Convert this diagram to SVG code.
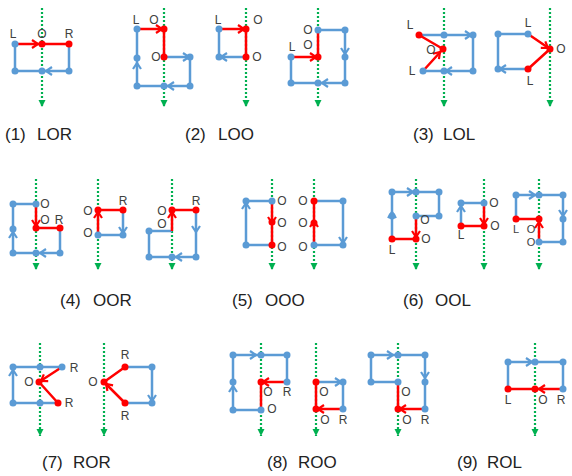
<svg xmlns="http://www.w3.org/2000/svg" xmlns:xlink="http://www.w3.org/1999/xlink" width="572" height="476" viewBox="0 0 572 476">
<style>
.g{stroke:#00B050;stroke-width:2.2;stroke-dasharray:2 2;fill:none;marker-end:url(#ga)}
.b{stroke:#5B9BD5;stroke-width:2.5;fill:none;stroke-linejoin:round}
.r{stroke:#FF0000;stroke-width:2.5;fill:none;stroke-linejoin:round}
.lb{font-family:"Liberation Sans",Arial,sans-serif;font-size:12px;fill:#404040;text-anchor:middle}
.sm{font-size:11px}
.cap{font-family:"Liberation Sans",Arial,sans-serif;font-size:17px;fill:#222}
</style>
<defs>
<marker id="ga" viewBox="0 0 8 8" refX="7" refY="4" markerWidth="8" markerHeight="8" markerUnits="userSpaceOnUse" orient="auto"><path d="M0,0.5 L7,4 L0,7.5z" fill="#00B050"/></marker>
<path id="cb" d="M-6,-4 L0,0 L-6,4" fill="none" stroke="#5B9BD5" stroke-width="2.2"/>
<path id="cr" d="M-6,-4 L0,0 L-6,4" fill="none" stroke="#FF0000" stroke-width="2.2"/>
<circle id="db" r="3.5" fill="#5B9BD5"/>
<circle id="dr" r="3.5" fill="#FF0000"/>
</defs>

<!-- (1) LOR -->
<g id="fig1">
<line class="g" x1="42" y1="8" x2="42" y2="107"/>
<path class="b" d="M69,44 V71 H15 V44"/>
<path class="r" d="M15,44 H69"/>
<use href="#cr" transform="translate(38,44)"/>
<use href="#cb" transform="translate(46,71) rotate(180)"/>
<use href="#db" x="15" y="44"/><use href="#dr" x="42" y="44"/><use href="#dr" x="69" y="44"/>
<use href="#db" x="15" y="71"/><use href="#db" x="42" y="71"/><use href="#db" x="69" y="71"/>
<text class="lb" x="13" y="38">L</text><text class="lb" x="42" y="38">O</text><text class="lb" x="69" y="38">R</text>
</g>

<!-- (2) LOO -->
<g id="fig2a">
<line class="g" x1="164" y1="8" x2="164" y2="107"/>
<path class="b" d="M164,57 H190 V86 H137 V29"/>
<path class="r" d="M137,29 H164 V57"/>
<use href="#cr" transform="translate(162,29)"/>
<use href="#cb" transform="translate(189,57)"/>
<use href="#cb" transform="translate(168,86) rotate(180)"/>
<use href="#cb" transform="translate(137,63) rotate(-90)"/>
<use href="#db" x="137" y="29"/><use href="#dr" x="164" y="29"/><use href="#dr" x="164" y="57"/>
<use href="#db" x="190" y="57"/><use href="#db" x="190" y="86"/><use href="#db" x="164" y="86"/>
<use href="#db" x="137" y="86"/><use href="#db" x="137" y="58"/>
<text class="lb" x="136" y="24">L</text><text class="lb" x="154" y="24">O</text><text class="lb" x="156" y="61">O</text>
</g>
<g id="fig2b">
<line class="g" x1="246" y1="8" x2="246" y2="107"/>
<path class="b" d="M246,57 H219 V29"/>
<path class="r" d="M219,29 H246 V57"/>
<use href="#cr" transform="translate(244,29)"/>
<use href="#cb" transform="translate(221,57) rotate(180)"/>
<use href="#db" x="219" y="29"/><use href="#dr" x="246" y="29"/><use href="#dr" x="246" y="57"/><use href="#db" x="219" y="57"/>
<text class="lb" x="218" y="24">L</text><text class="lb" x="258" y="24">O</text><text class="lb" x="257" y="61">O</text>
</g>
<g id="fig2c">
<line class="g" x1="318" y1="8" x2="318" y2="107"/>
<path class="b" d="M318,30 H345 V83 H291 V57"/>
<path class="r" d="M291,57 H318 V30"/>
<use href="#cb" transform="translate(345,54) rotate(90)"/>
<use href="#cb" transform="translate(322,83) rotate(180)"/>
<use href="#cr" transform="translate(316,57)"/>
<use href="#db" x="318" y="30"/><use href="#db" x="345" y="30"/><use href="#db" x="345" y="57"/>
<use href="#db" x="345" y="83"/><use href="#db" x="318" y="83"/><use href="#db" x="291" y="83"/>
<use href="#db" x="291" y="57"/><use href="#dr" x="318" y="57"/>
<text class="lb" x="308" y="34">O</text><text class="lb" x="292" y="51">L</text><text class="lb" x="308" y="49">O</text>
</g>

<!-- (3) LOL -->
<g id="fig3a">
<line class="g" x1="444" y1="8" x2="444" y2="107"/>
<path class="b" d="M419,35 H473 V71 H423"/>
<path class="r" d="M419,35 L443,49 L423,71"/>
<use href="#cb" transform="translate(471,35)"/>
<use href="#cb" transform="translate(446,71) rotate(180)"/>
<use href="#cr" transform="translate(440,52) rotate(-47.7)"/>
<use href="#dr" x="419" y="35"/><use href="#db" x="444" y="35"/><use href="#db" x="473" y="35"/>
<use href="#db" x="473" y="71"/><use href="#db" x="444" y="71"/><use href="#db" x="423" y="71"/>
<use href="#dr" x="443" y="49"/>
<text class="lb" x="410" y="29">L</text><text class="lb" x="431" y="54">O</text><text class="lb" x="412" y="75">L</text>
</g>
<g id="fig3b">
<line class="g" x1="550" y1="8" x2="550" y2="107"/>
<path class="b" d="M528,34 H498 V69 H528"/>
<path class="r" d="M528,34 L550,49 L528,69"/>
<use href="#cr" transform="translate(548,48) rotate(34.3)"/>
<use href="#cb" transform="translate(500,69) rotate(180)"/>
<use href="#db" x="498" y="34"/><use href="#db" x="528" y="34"/><use href="#dr" x="550" y="49"/>
<use href="#dr" x="528" y="69"/><use href="#db" x="498" y="69"/>
<text class="lb" x="528" y="27">L</text><text class="lb" x="561" y="53">O</text><text class="lb" x="530" y="85">L</text>
</g>

<!-- (4) OOR -->
<g id="fig4a">
<line class="g" x1="36" y1="179" x2="36" y2="270"/>
<path class="b" d="M60,228 V253 H13 V204 H36"/>
<path class="r" d="M36,204 V228 H60"/>
<use href="#cr" transform="translate(36,226) rotate(90)"/>
<use href="#cb" transform="translate(40,253) rotate(180)"/>
<use href="#cb" transform="translate(13,232) rotate(-90)"/>
<use href="#db" x="13" y="204"/><use href="#db" x="36" y="204"/><use href="#dr" x="36" y="228"/>
<use href="#dr" x="60" y="228"/><use href="#db" x="60" y="253"/><use href="#db" x="36" y="253"/>
<use href="#db" x="13" y="253"/><use href="#db" x="13" y="229"/>
<text class="lb" x="45" y="208">O</text><text class="lb" x="45" y="224">O</text><text class="lb" x="59" y="224">R</text>
</g>
<g id="fig4b">
<line class="g" x1="98" y1="179" x2="98" y2="270"/>
<path class="b" d="M123,210 V235 H98"/>
<path class="r" d="M98,235 V210 H123"/>
<use href="#cr" transform="translate(98,212) rotate(-90)"/>
<use href="#cb" transform="translate(123,233) rotate(90)"/>
<use href="#dr" x="98" y="210"/><use href="#dr" x="123" y="210"/><use href="#db" x="123" y="235"/><use href="#db" x="98" y="235"/>
<text class="lb" x="88" y="215">O</text><text class="lb" x="123" y="205">R</text><text class="lb" x="88" y="237">O</text>
</g>
<g id="fig4c">
<line class="g" x1="172" y1="179" x2="172" y2="270"/>
<path class="b" d="M196,210 V257 H149 V231 H172"/>
<path class="r" d="M172,231 V210 H196"/>
<use href="#cr" transform="translate(172,212) rotate(-90)"/>
<use href="#cb" transform="translate(196,232) rotate(90)"/>
<use href="#cb" transform="translate(176,257) rotate(180)"/>
<use href="#dr" x="172" y="210"/><use href="#dr" x="196" y="210"/><use href="#db" x="196" y="257"/>
<use href="#db" x="172" y="257"/><use href="#db" x="149" y="257"/><use href="#db" x="149" y="231"/>
<text class="lb" x="162" y="215">O</text><text class="lb" x="162" y="228">O</text><text class="lb" x="196" y="205">R</text>
</g>

<!-- (5) OOO -->
<g id="fig5a">
<line class="g" x1="272" y1="179" x2="272" y2="270"/>
<path class="b" d="M272,245 H246 V201 H272"/>
<path class="r" d="M272,201 V245"/>
<use href="#cr" transform="translate(272,223) rotate(90)"/>
<use href="#cb" transform="translate(246,203) rotate(-90)"/>
<use href="#db" x="272" y="201"/><use href="#dr" x="272" y="222"/><use href="#dr" x="272" y="245"/>
<use href="#db" x="246" y="245"/><use href="#db" x="246" y="201"/>
<text class="lb" x="282" y="205">O</text><text class="lb" x="282" y="227">O</text><text class="lb" x="282" y="251">O</text>
</g>
<g id="fig5b">
<line class="g" x1="314" y1="179" x2="314" y2="270"/>
<path class="b" d="M314,201 H343 V245 H314"/>
<path class="r" d="M314,245 V201"/>
<use href="#cr" transform="translate(314,221) rotate(-90)"/>
<use href="#cb" transform="translate(343,243) rotate(90)"/>
<use href="#dr" x="314" y="201"/><use href="#dr" x="314" y="223"/><use href="#db" x="314" y="245"/>
<use href="#db" x="343" y="201"/><use href="#db" x="343" y="245"/>
<text class="lb" x="303" y="205">O</text><text class="lb" x="303" y="227">O</text><text class="lb" x="303" y="251">O</text>
</g>

<!-- (6) OOL -->
<g id="fig6a">
<line class="g" x1="416" y1="179" x2="416" y2="270"/>
<path class="b" d="M392,239 V192 H439 V216 H416"/>
<path class="r" d="M416,216 V239 H392"/>
<use href="#cb" transform="translate(413,192)"/>
<use href="#cb" transform="translate(392,212) rotate(-90)"/>
<use href="#cr" transform="translate(416,237) rotate(90)"/>
<use href="#db" x="392" y="192"/><use href="#db" x="416" y="192"/><use href="#db" x="439" y="192"/>
<use href="#db" x="439" y="216"/><use href="#db" x="416" y="216"/><use href="#dr" x="416" y="239"/>
<use href="#dr" x="392" y="239"/><use href="#db" x="392" y="216"/>
<text class="lb" x="425" y="224">O</text><text class="lb" x="426" y="243">O</text><text class="lb" x="392" y="254">L</text>
</g>
<g id="fig6b">
<line class="g" x1="484" y1="179" x2="484" y2="270"/>
<path class="b" d="M461,226 V203 H484"/>
<path class="r" d="M484,203 V226 H461"/>
<use href="#cb" transform="translate(461,206) rotate(-90)"/>
<use href="#cr" transform="translate(484,224) rotate(90)"/>
<use href="#db" x="461" y="203"/><use href="#db" x="484" y="203"/><use href="#dr" x="484" y="226"/><use href="#dr" x="461" y="226"/>
<text class="lb" x="494" y="207">O</text><text class="lb" x="495" y="230">O</text><text class="lb" x="461" y="239">L</text>
</g>
<g id="fig6c">
<line class="g" x1="539" y1="179" x2="539" y2="270"/>
<path class="b" d="M516,219 V195 H563 V242 H539"/>
<path class="r" d="M539,242 V219 H516"/>
<use href="#cb" transform="translate(535,195)"/>
<use href="#cb" transform="translate(563,216) rotate(90)"/>
<use href="#cr" transform="translate(539,222) rotate(-90)"/>
<use href="#db" x="516" y="195"/><use href="#db" x="539" y="195"/><use href="#db" x="563" y="195"/>
<use href="#db" x="563" y="219"/><use href="#db" x="563" y="242"/><use href="#db" x="539" y="242"/>
<use href="#dr" x="539" y="219"/><use href="#dr" x="516" y="219"/>
<text class="lb sm" x="516" y="233">L</text><text class="lb sm" x="531" y="233">O</text><text class="lb sm" x="531" y="246">O</text>
</g>

<!-- (7) ROR -->
<g id="fig7a">
<line class="g" x1="40" y1="343" x2="40" y2="436"/>
<path class="b" d="M58,403 H13 V367 H62"/>
<path class="r" d="M62,367 L39,382 L58,403"/>
<use href="#cb" transform="translate(13,370) rotate(-90)"/>
<use href="#cr" transform="translate(41,381) rotate(146.9)"/>
<use href="#db" x="13" y="367"/><use href="#db" x="40" y="367"/><use href="#db" x="62" y="367"/>
<use href="#dr" x="39" y="382"/><use href="#dr" x="58" y="403"/><use href="#db" x="40" y="403"/><use href="#db" x="13" y="403"/>
<text class="lb" x="74" y="372">R</text><text class="lb" x="29" y="386">O</text><text class="lb" x="69" y="407">R</text>
</g>
<g id="fig7b">
<line class="g" x1="104" y1="343" x2="104" y2="436"/>
<path class="b" d="M125,367 H152 V403 H125"/>
<path class="r" d="M125,367 L104,382 L125,403"/>
<use href="#cb" transform="translate(152,401) rotate(90)"/>
<use href="#cr" transform="translate(106,384) rotate(-135)"/>
<use href="#dr" x="125" y="367"/><use href="#db" x="152" y="367"/><use href="#db" x="152" y="403"/>
<use href="#dr" x="125" y="403"/><use href="#dr" x="104" y="382"/>
<text class="lb" x="125" y="359">R</text><text class="lb" x="93" y="386">O</text><text class="lb" x="125" y="420">R</text>
</g>

<!-- (8) ROO -->
<g id="fig8a">
<line class="g" x1="261" y1="343" x2="261" y2="436"/>
<path class="b" d="M261,410 H233 V355 H287 V382"/>
<path class="r" d="M287,382 H261 V410"/>
<use href="#cb" transform="translate(256,355)"/>
<use href="#cb" transform="translate(233,386) rotate(-90)"/>
<use href="#cr" transform="translate(263,382) rotate(180)"/>
<use href="#db" x="233" y="355"/><use href="#db" x="261" y="355"/><use href="#db" x="287" y="355"/>
<use href="#db" x="287" y="382"/><use href="#dr" x="261" y="382"/><use href="#db" x="261" y="410"/>
<use href="#db" x="233" y="410"/><use href="#db" x="233" y="382"/>
<text class="lb" x="268" y="396">O</text><text class="lb" x="287" y="396">R</text><text class="lb" x="272" y="413">O</text>
</g>
<g id="fig8b">
<line class="g" x1="316" y1="343" x2="316" y2="436"/>
<path class="b" d="M316,382 H343 V409"/>
<path class="r" d="M343,409 H316 V382"/>
<use href="#cb" transform="translate(341,382)"/>
<use href="#cr" transform="translate(318,409) rotate(180)"/>
<use href="#dr" x="316" y="382"/><use href="#db" x="343" y="382"/><use href="#db" x="343" y="409"/><use href="#dr" x="316" y="409"/>
<text class="lb" x="324" y="396">O</text><text class="lb" x="325" y="424">O</text><text class="lb" x="343" y="424">R</text>
</g>
<g id="fig8c">
<line class="g" x1="398" y1="343" x2="398" y2="436"/>
<path class="b" d="M398,382 H371 V355 H425 V409"/>
<path class="r" d="M425,409 H398 V382"/>
<use href="#cb" transform="translate(393,355)"/>
<use href="#cb" transform="translate(425,378) rotate(90)"/>
<use href="#cr" transform="translate(400,409) rotate(180)"/>
<use href="#db" x="371" y="355"/><use href="#db" x="398" y="355"/><use href="#db" x="425" y="355"/>
<use href="#db" x="425" y="382"/><use href="#db" x="425" y="409"/><use href="#dr" x="398" y="409"/>
<use href="#db" x="398" y="382"/><use href="#db" x="371" y="382"/>
<text class="lb" x="406" y="396">O</text><text class="lb" x="407" y="424">O</text><text class="lb" x="425" y="424">R</text>
</g>

<!-- (9) ROL -->
<g id="fig9">
<line class="g" x1="535" y1="343" x2="535" y2="436"/>
<path class="b" d="M508,389 V362 H563 V389"/>
<path class="r" d="M563,389 H508"/>
<use href="#cb" transform="translate(532,362)"/>
<use href="#cr" transform="translate(539,389) rotate(180)"/>
<use href="#db" x="508" y="362"/><use href="#db" x="535" y="362"/><use href="#db" x="563" y="362"/>
<use href="#db" x="563" y="389"/><use href="#dr" x="535" y="389"/><use href="#dr" x="508" y="389"/>
<text class="lb" x="508" y="404">L</text><text class="lb" x="543" y="404">O</text><text class="lb" x="561" y="404">R</text>
</g>

<g id="captions">
<text class="cap" y="140"><tspan x="5">(1)</tspan><tspan x="37">LOR</tspan></text>
<text class="cap" y="140"><tspan x="185">(2)</tspan><tspan x="218">LOO</tspan></text>
<text class="cap" y="140"><tspan x="413">(3)</tspan><tspan x="443">LOL</tspan></text>
<text class="cap" y="306"><tspan x="60">(4)</tspan><tspan x="93">OOR</tspan></text>
<text class="cap" y="306"><tspan x="232">(5)</tspan><tspan x="265">OOO</tspan></text>
<text class="cap" y="306"><tspan x="403">(6)</tspan><tspan x="435">OOL</tspan></text>
<text class="cap" y="468"><tspan x="42">(7)</tspan><tspan x="73">ROR</tspan></text>
<text class="cap" y="468"><tspan x="267">(8)</tspan><tspan x="298">ROO</tspan></text>
<text class="cap" y="468"><tspan x="457">(9)</tspan><tspan x="487">ROL</tspan></text>
</g>
</svg>
